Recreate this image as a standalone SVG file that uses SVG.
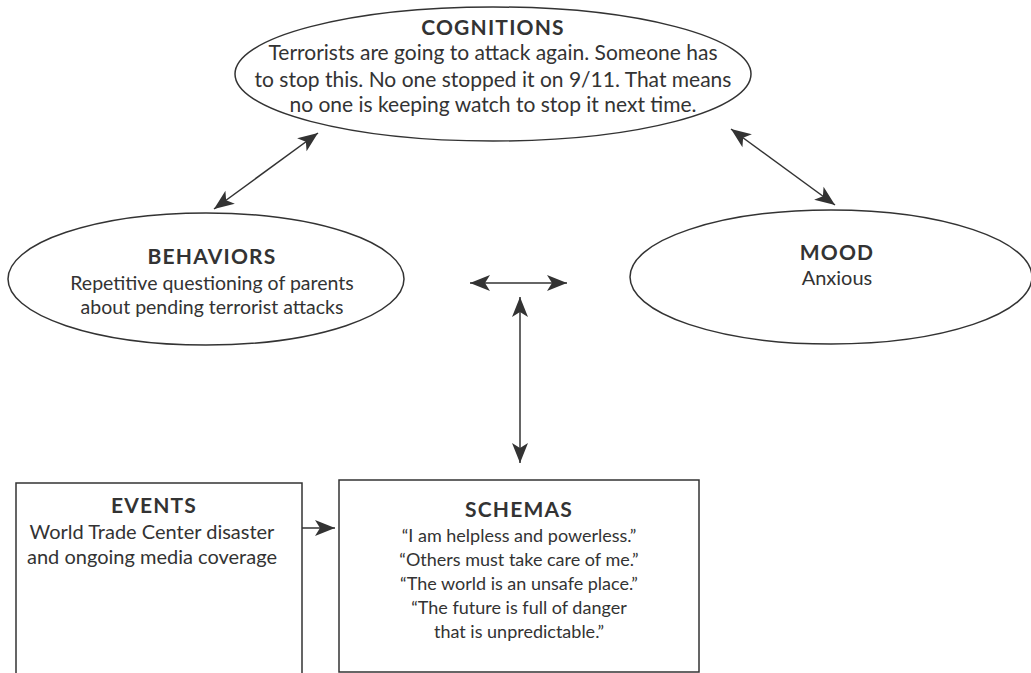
<svg xmlns="http://www.w3.org/2000/svg" width="1031" height="673" viewBox="0 0 1031 673">
<style>
.shape{fill:#fff;stroke:#333;stroke-width:1.5}
.t{font-family:"Lato","Liberation Sans",sans-serif;font-size:18px;fill:#333;text-anchor:middle}
.h{font-weight:bold;font-size:21px;letter-spacing:1.2px}
.b21{font-size:21px}
.b20{font-size:20px}
.b195{font-size:19.5px}
.c{stroke:#333;stroke-width:1.5;fill:none}
</style>
<defs>
<marker id="ah" markerUnits="userSpaceOnUse" markerWidth="24" markerHeight="18" viewBox="-21 -9 24 18" refX="0" refY="0" orient="auto-start-reverse">
<path d="M0,0 L-20,-8 L-15,0 L-20,8 Z" fill="#333"/>
</marker>
</defs>
<rect width="1031" height="673" fill="#fff"/>
<g id="connectors">
<line class="c" x1="214" y1="209" x2="318" y2="133" marker-start="url(#ah)" marker-end="url(#ah)"/>
<line class="c" x1="731" y1="129" x2="835" y2="205" marker-start="url(#ah)" marker-end="url(#ah)"/>
<line class="c" x1="470" y1="283" x2="567" y2="283" marker-start="url(#ah)" marker-end="url(#ah)"/>
<line class="c" x1="520" y1="297" x2="520" y2="463" style="stroke:#666;stroke-width:2" marker-start="url(#ah)" marker-end="url(#ah)"/>
<line class="c" x1="302" y1="528" x2="335" y2="528" marker-end="url(#ah)"/>
</g>
<g id="cognitions">
<ellipse class="shape" cx="493" cy="74" rx="258" ry="67"/>
<text class="t h" x="493" y="35">COGNITIONS</text>
<text class="t b21" x="493" y="60">Terrorists are going to attack again. Someone has</text>
<text class="t b21" x="493" y="87">to stop this. No one stopped it on 9/11. That means</text>
<text class="t b21" x="493" y="112">no one is keeping watch to stop it next time.</text>
</g>
<g id="behaviors">
<ellipse class="shape" cx="206" cy="279" rx="198" ry="66"/>
<text class="t h" x="212" y="264">BEHAVIORS</text>
<text class="t b195" x="212" y="290">Repetitive questioning of parents</text>
<text class="t b195" x="212" y="314">about pending terrorist attacks</text>
</g>
<g id="mood">
<ellipse class="shape" cx="831" cy="277" rx="201" ry="67"/>
<text class="t h" x="837" y="260">MOOD</text>
<text class="t b20" x="837" y="285">Anxious</text>
</g>
<g id="events">
<path class="shape" d="M16,680 V483 H302 V680"/>
<text class="t h" x="154" y="513">EVENTS</text>
<text class="t b20" x="152" y="539">World Trade Center disaster</text>
<text class="t b20" x="152" y="564">and ongoing media coverage</text>
</g>
<g id="schemas">
<rect class="shape" x="339" y="480" width="360" height="192"/>
<text class="t h" x="519" y="517">SCHEMAS</text>
<text class="t" x="519" y="542">“I am helpless and powerless.”</text>
<text class="t" x="519" y="566">“Others must take care of me.”</text>
<text class="t" x="519" y="590">“The world is an unsafe place.”</text>
<text class="t" x="519" y="614">“The future is full of danger</text>
<text class="t" x="519" y="638">that is unpredictable.”</text>
</g>
</svg>
